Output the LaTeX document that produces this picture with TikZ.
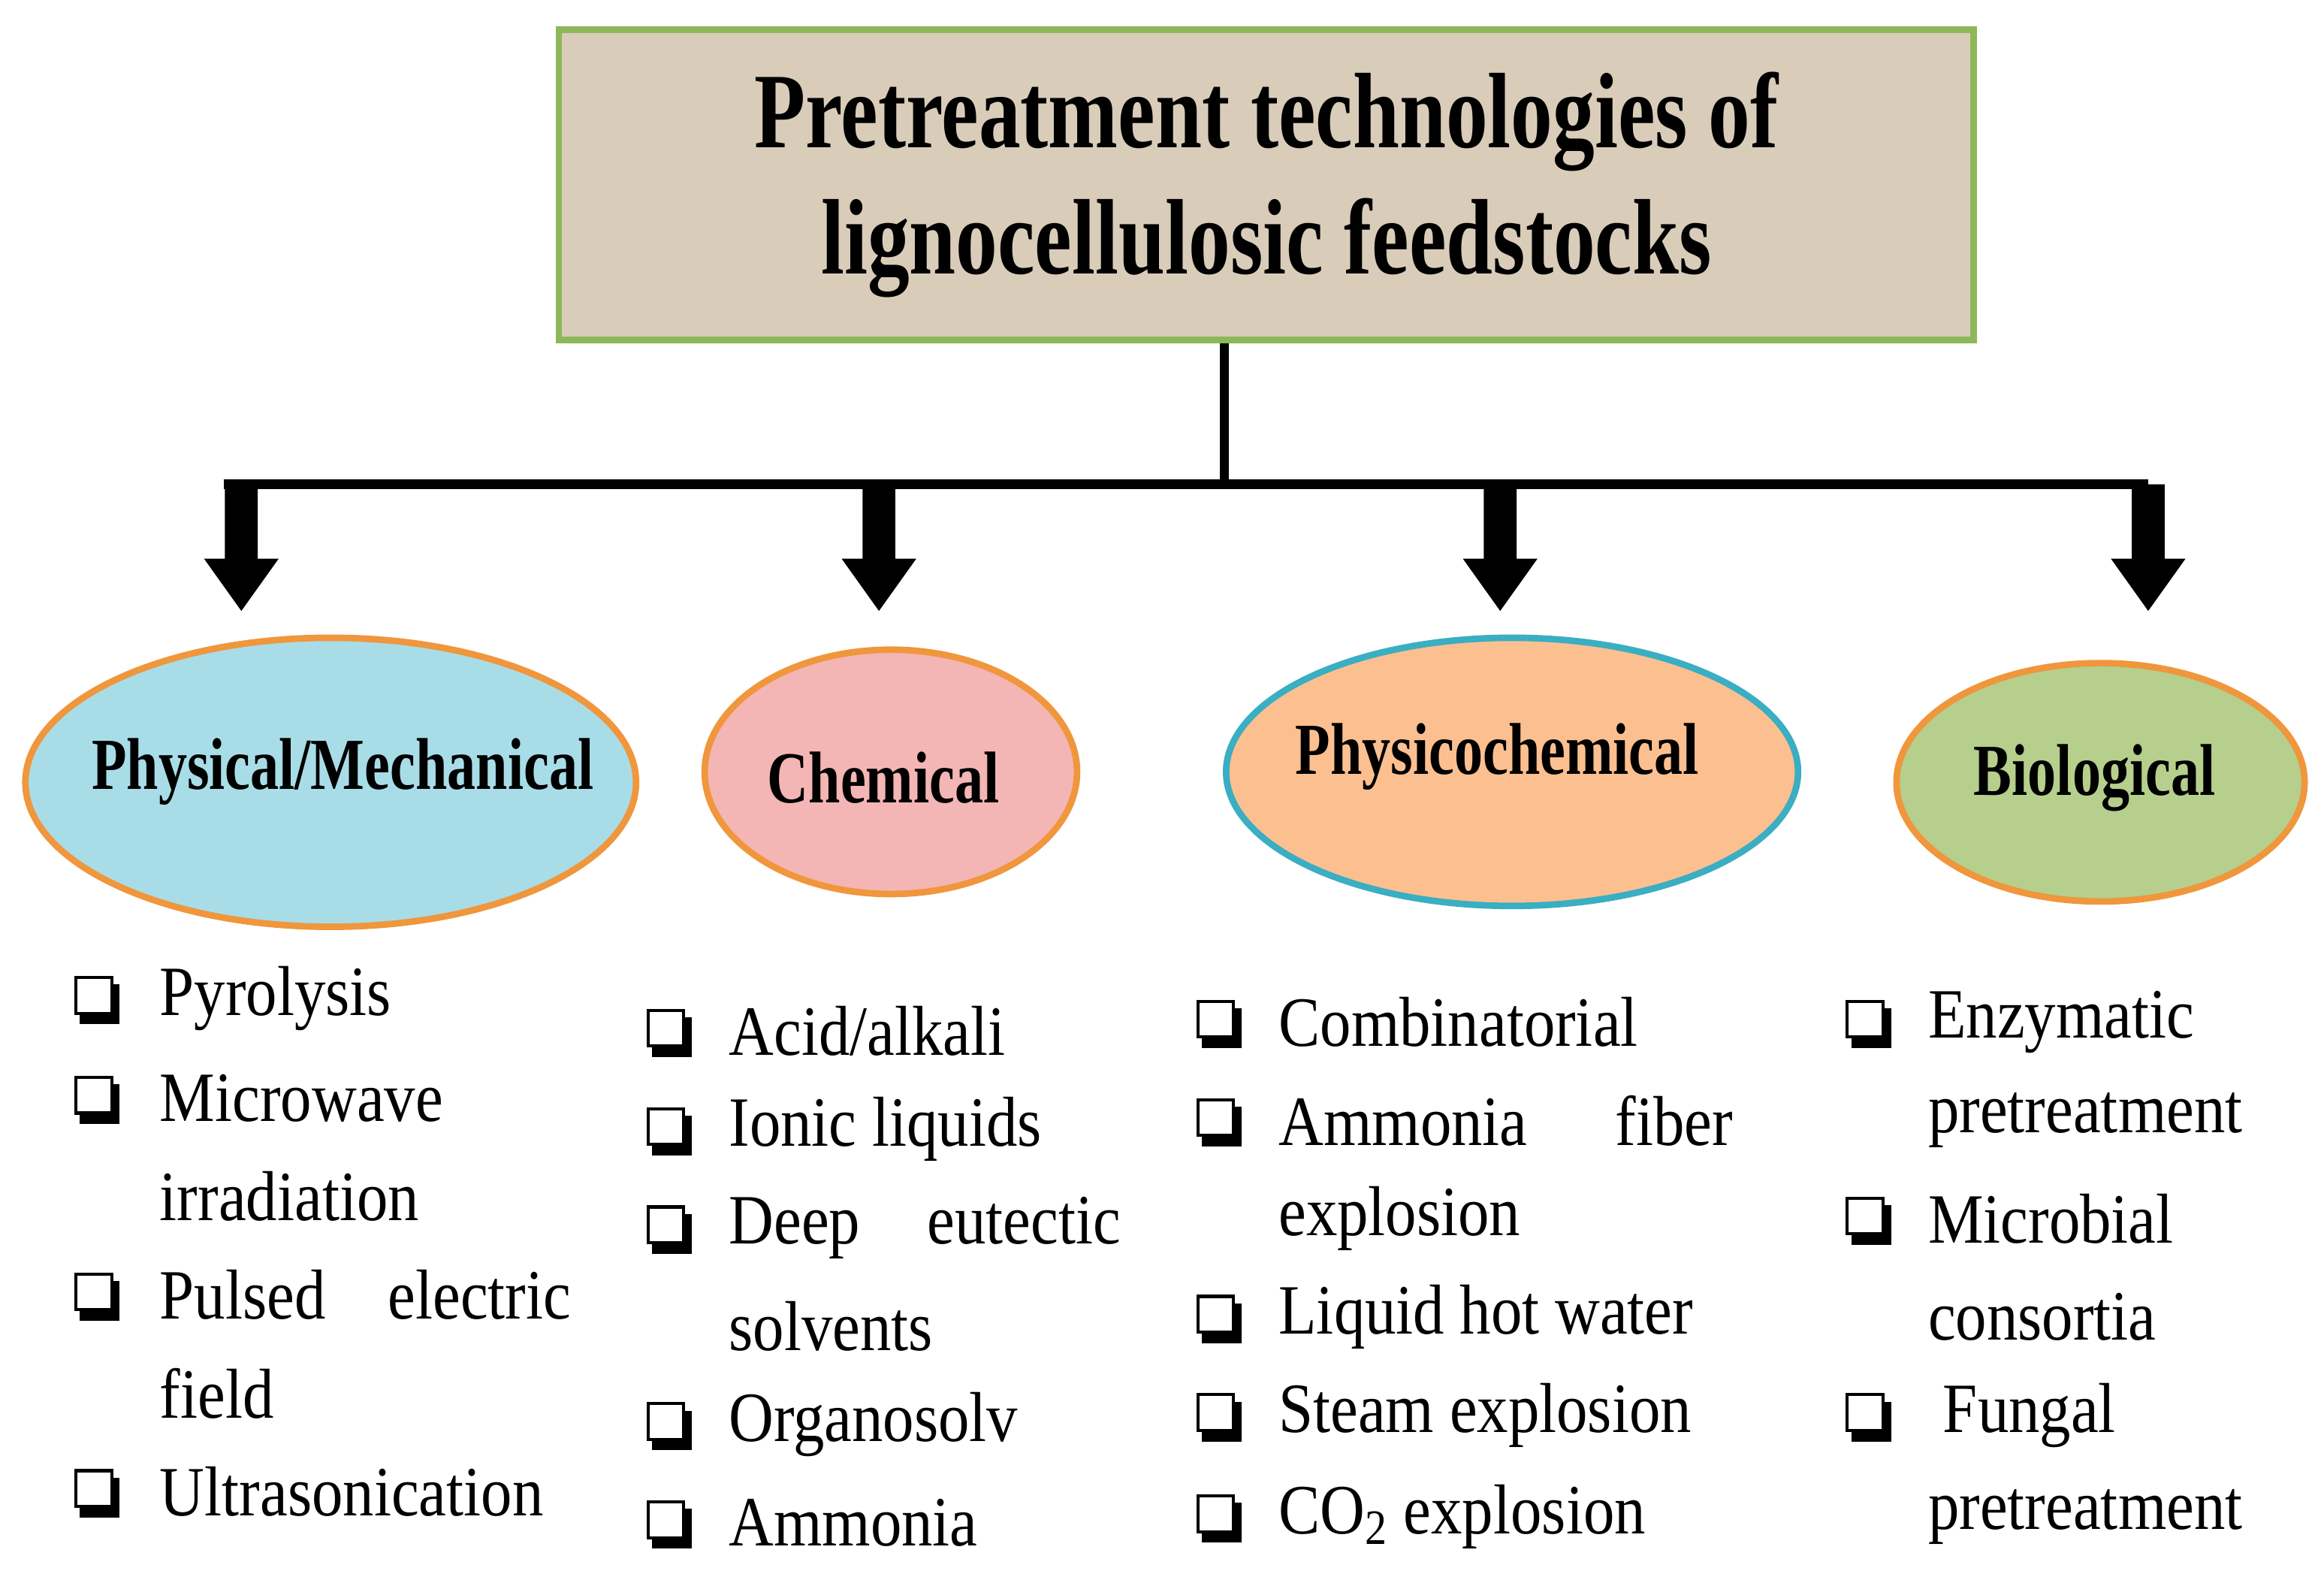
\documentclass[tikz,border=0pt]{standalone}
\usepackage{fontspec}
\setmainfont{Liberation Serif}
\newfontfamily\condb[FakeStretch=0.78]{Liberation Serif}
\newfontfamily\cond[FakeStretch=0.88]{Liberation Serif}
\usetikzlibrary{shapes.geometric,calc}
\definecolor{beige}{HTML}{D9CDBA}
\definecolor{tgreen}{HTML}{8DB85A}
\definecolor{eorange}{HTML}{F0963C}
\definecolor{lblue}{HTML}{A8DDE8}
\definecolor{lpink}{HTML}{F4B6B4}
\definecolor{lorange}{HTML}{FCC090}
\definecolor{teal}{HTML}{3AAEC2}
\definecolor{lgreen}{HTML}{B6CF8C}
\tikzset{
  ell/.style={ellipse, line width=2.5pt, inner sep=0pt},
  elab/.style={font=\condb\fontsize{28}{30}\selectfont\bfseries},
  item/.style={anchor=west, inner sep=0pt, font=\cond\fontsize{27}{30}\selectfont},
}
\newcommand{\cbox}[1]{\draw[fill=black] ($(#1)+(-11,-9)$) rectangle ($(#1)+(15,17)$);
  \draw[fill=white, line width=1.2pt] ($(#1)+(-14,-14)$) rectangle ($(#1)+(10,10)$);}
\begin{document}
\begin{tikzpicture}[x=0.02cm,y=-0.02cm]
\useasboundingbox (0,0) rectangle (1560,1060);
\node[draw=tgreen, line width=2.5pt, fill=beige, minimum width=19cm, minimum height=4.16cm, align=center,
  font=\condb\fontsize{41}{48}\selectfont\bfseries] (title) at (850,124) {Pretreatment technologies of\\lignocellulosic feedstocks};
\coordinate (j) at (822,325);
\coordinate (l) at (150,325);
\coordinate (r) at (1442,325);
\draw[line width=3.5pt] (title.south -| j) -- (j);
\draw[line width=3.5pt] (l) -- (r);
\foreach \x in {162,590,1007,1442}{
  \fill (\x-11,325) -- (\x+11,325) -- (\x+11,375) -- (\x+25,375) -- (\x,410) -- (\x-25,375) -- (\x-11,375) -- cycle;
}
\node[ell, draw=eorange, fill=lblue, minimum width=8.2cm, minimum height=3.88cm] (e1) at (222,525) {};
\node[elab] at (230,518) {Physical/Mechanical};
\node[ell, draw=eorange, fill=lpink, minimum width=5cm, minimum height=3.28cm] (e2) at (598,518) {};
\node[elab] at (593,522) {Chemical};
\node[ell, draw=teal, fill=lorange, minimum width=7.68cm, minimum height=3.6cm] (e3) at (1015,518) {};
\node[elab] at (1005,508) {Physicochemical};
\node[ell, draw=eorange, fill=lgreen, minimum width=5.48cm, minimum height=3.2cm] (e4) at (1410,525) {};
\node[elab] at (1406,522) {Biological};
% column 1
\foreach \y in {670,737,869,1001}{\cbox{65,\y}}
\node[item] at (107,670) {Pyrolysis};
\node[item] at (107,737) {Microwave};
\node[item] at (107,803) {irradiation};
\node[item] at (107,869) {\makebox[5.52cm][s]{Pulsed\hfill electric}};
\node[item] at (107,935) {field};
\node[item] at (107,1001) {Ultrasonication};
% column 2
\foreach \y in {692,758,824,956,1022}{\cbox{449,\y}}
\node[item] at (489,692) {Acid/alkali};
\node[item] at (489,758) {Ionic liquids};
\node[item] at (489,824) {\makebox[5.26cm][s]{Deep\hfill eutectic}};
\node[item] at (489,890) {solvents};
\node[item] at (489,956) {Organosolv};
\node[item] at (489,1022) {Ammonia};
% column 3
\foreach \y in {686,752,884,950,1018}{\cbox{818,\y}}
\node[item] at (858,686) {Combinatorial};
\node[item] at (858,752) {\makebox[6.1cm][s]{Ammonia\hfill fiber}};
\node[item] at (858,818) {explosion};
\node[item] at (858,884) {Liquid hot water};
\node[item] at (858,950) {Steam explosion};
\node[item] at (858,1018) {CO\textsubscript{2} explosion};
% column 4
\foreach \y in {686,818,950}{\cbox{1254,\y}}
\node[item] at (1294,686) {Enzymatic};
\node[item] at (1294,752) {pretreatment};
\node[item] at (1294,818) {Microbial};
\node[item] at (1294,884) {consortia};
\node[item] at (1304,950) {Fungal};
\node[item] at (1294,1018) {pretreatment};
\end{tikzpicture}
\end{document}
